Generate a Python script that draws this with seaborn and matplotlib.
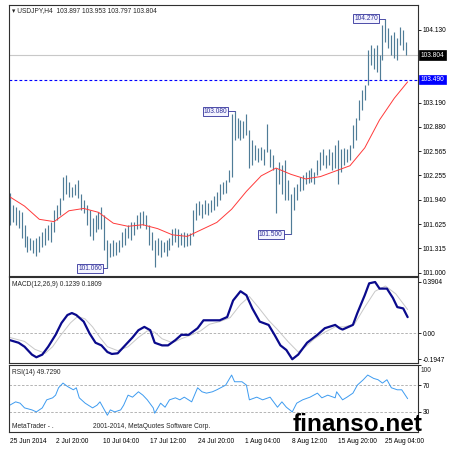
import matplotlib
matplotlib.use('Agg')
import matplotlib.pyplot as plt
import numpy as np
import seaborn as sns

sns.set_style('white')
plt.rcParams['font.family'] = ['Liberation Sans', 'DejaVu Sans']

# ---- price bars (H8-style sampling of the H4 chart) ----
bar_high = [
    102.03, 101.88, 101.85, 101.81, 101.79, 101.62, 101.47, 101.45, 101.43, 101.45,
    101.48, 101.53, 101.58, 101.62, 101.66, 101.81, 101.88, 101.97, 102.23, 102.26,
    102.17, 102.11, 102.15, 102.20, 102.01, 101.94, 101.88, 101.81, 101.71, 101.75,
    101.79, 101.85, 101.75, 101.43, 101.39, 101.43, 101.40, 101.43, 101.53, 101.58,
    101.62, 101.65, 101.66, 101.75, 101.79, 101.80, 101.75, 101.62, 101.53, 101.43,
    101.45, 101.43, 101.40, 101.43, 101.45, 101.56, 101.58, 101.56, 101.52, 101.53,
    101.51, 101.52, 101.81, 101.90, 101.93, 101.89, 101.94, 101.90, 101.94, 101.99,
    102.04, 102.14, 102.17, 102.20, 102.33, 103.04, 103.08, 103.00, 102.97, 102.95,
    103.04, 102.84, 102.71, 102.65, 102.61, 102.62, 102.59, 102.92, 102.59, 102.52,
    102.35, 102.43, 102.39, 102.46, 102.20, 102.01, 102.10, 102.14, 102.23, 102.26,
    102.30, 102.33, 102.35, 102.30, 102.46, 102.56, 102.59, 102.52, 102.59, 102.56,
    102.65, 102.71, 102.59, 102.61, 102.59, 102.65, 102.91, 103.00, 103.23, 103.36,
    103.42, 103.87, 103.94, 103.90, 103.94, 103.81, 104.19, 104.27, 104.16, 104.07,
    104.10, 104.03, 104.17, 104.13, 103.97]
bar_low = [
    101.62, 101.66, 101.62, 101.58, 101.45, 101.33, 101.27, 101.30, 101.25, 101.22,
    101.27, 101.33, 101.36, 101.43, 101.40, 101.53, 101.68, 101.75, 101.94, 102.01,
    101.98, 101.98, 102.00, 101.97, 101.81, 101.77, 101.62, 101.47, 101.43, 101.53,
    101.56, 101.56, 101.30, 101.06, 101.21, 101.22, 101.23, 101.27, 101.33, 101.36,
    101.45, 101.43, 101.49, 101.56, 101.58, 101.62, 101.56, 101.36, 101.30, 101.08,
    101.23, 101.20, 101.27, 101.22, 101.30, 101.36, 101.40, 101.33, 101.36, 101.33,
    101.35, 101.36, 101.48, 101.68, 101.75, 101.71, 101.76, 101.74, 101.79, 101.81,
    101.86, 101.94, 102.01, 102.03, 102.17, 102.23, 102.71, 102.74, 102.71, 102.74,
    102.78, 102.35, 102.39, 102.46, 102.43, 102.46, 102.39, 102.56, 102.37, 102.33,
    101.77, 102.14, 102.01, 101.94, 101.94, 101.50, 101.81, 101.94, 102.05, 102.07,
    102.14, 102.16, 102.17, 102.14, 102.26, 102.33, 102.39, 102.35, 102.39, 102.33,
    102.35, 102.14, 102.30, 102.39, 102.43, 102.46, 102.61, 102.71, 102.97, 103.10,
    103.23, 103.42, 103.68, 103.62, 103.59, 103.49, 103.74, 103.97, 103.90, 103.81,
    103.77, 103.74, 103.94, 103.87, 103.80]

# moving average (red)
ma_idx = list(range(0, 261, 10)) + [269]
ma_val = [101.98, 101.86, 101.69, 101.66, 101.80, 101.83, 101.78, 101.64, 101.60, 101.62,
          101.57, 101.49, 101.47, 101.56, 101.65, 101.82, 102.05, 102.25, 102.35, 102.27,
          102.21, 102.24, 102.31, 102.38, 102.61, 102.97, 103.25, 103.46]

# MACD(12,26,9)
macd_idx = [0, 6, 10, 15, 18, 22, 26, 31, 35, 39, 42, 45, 50, 54, 58, 62, 66, 69, 73, 78,
            83, 87, 91, 95, 98, 103, 107, 112, 116, 121, 127, 131, 135, 142, 147, 151, 156, 160, 164, 169,
            175, 179, 183, 187, 191, 195, 201, 208, 213, 220, 223, 225, 232, 235, 240, 243, 247, 250, 255, 259,
            262, 266, 269]
macd_val = [-0.05, -0.07, -0.10, -0.16, -0.18, -0.16, -0.10, -0.01, 0.08, 0.14,
            0.155, 0.14, 0.09, 0.00, -0.07, -0.09, -0.14, -0.155, -0.15, -0.09,
            -0.03, 0.025, 0.05, 0.025, -0.07, -0.09, -0.09, -0.05, -0.01, -0.01,
            0.04, 0.10, 0.10, 0.10, 0.125, 0.25, 0.32, 0.29, 0.19, 0.09,
            0.065, -0.01, -0.09, -0.125, -0.195, -0.16, -0.07, -0.01, 0.04, 0.065,
            0.04, 0.03, 0.065, 0.155, 0.29, 0.38, 0.39, 0.34, 0.34, 0.27,
            0.20, 0.19, 0.124]
signal_idx = [0, 10, 17, 24, 29, 34, 41, 46, 51, 56, 61, 66, 73, 80, 87, 93, 98, 103, 110, 116,
              123, 129, 135, 142, 149, 156, 162, 168, 175, 181, 188, 195, 200, 206, 213, 220, 226, 233, 240, 247,
              254, 261, 269]
signal_val = [-0.03, -0.06, -0.12, -0.15, -0.10, -0.02, 0.08, 0.13, 0.11, 0.05,
              -0.03, -0.10, -0.13, -0.10, -0.03, 0.02, 0.01, -0.04, -0.07, -0.04,
              -0.01, 0.02, 0.07, 0.09, 0.12, 0.22, 0.28, 0.20, 0.10, 0.03,
              -0.06, -0.14, -0.10, -0.04, 0.01, 0.05, 0.05, 0.07, 0.20, 0.32,
              0.36, 0.30, 0.181]

# RSI(14)
rsi_idx = [0, 4, 7, 10, 15, 18, 22, 25, 29, 31, 33, 36, 39, 43, 45, 47, 51, 56, 59, 61,
           63, 66, 68, 71, 75, 77, 80, 83, 87, 90, 93, 97, 98, 102, 105, 108, 112, 115, 118, 123,
           127, 130, 133, 137, 140, 146, 150, 152, 157, 160, 162, 167, 171, 176, 181, 184, 187, 191, 194, 198,
           203, 208, 211, 215, 220, 221, 225, 228, 232, 235, 239, 242, 246, 249, 252, 255, 258, 262, 265, 269]
rsi_val = [40, 45, 43, 36, 33, 30, 36, 48, 51, 55, 66, 73, 68, 63, 66, 51, 43, 36, 40, 45,
           37, 25, 33, 30, 33, 40, 55, 52, 60, 55, 48, 36, 28, 43, 37, 48, 51, 48, 52, 45,
           66, 60, 58, 60, 63, 70, 85, 75, 75, 70, 48, 52, 48, 52, 37, 45, 37, 30, 43, 48,
           52, 58, 51, 55, 51, 60, 48, 52, 58, 70, 78, 85, 80, 78, 73, 78, 66, 63, 63, 49.73]

price_ticks = [104.130, 103.190, 102.880, 102.565, 102.255, 101.940, 101.625, 101.315, 101.000]
date_pos = [0, 31, 63, 95, 127, 159, 191, 222, 254]
date_labels = ['25 Jun 2014', '2 Jul 20:00', '10 Jul 04:00', '17 Jul 12:00', '24 Jul 20:00',
               '1 Aug 04:00', '8 Aug 12:00', '15 Aug 20:00', '25 Aug 04:00']

W = H = 450
FS = 4.8
fig = plt.figure(figsize=(4.5, 4.5), dpi=100)


def box(top, bottom, left=9, right=418):
    return [left / W, 1 - bottom / H, (right - left) / W, (bottom - top) / H]


def px(x, y):
    return x / W, 1 - y / H


ax = fig.add_axes(box(5, 276))
ax_macd = fig.add_axes(box(277, 363))
ax_rsi = fig.add_axes(box(365, 432))

for a in (ax, ax_macd, ax_rsi):
    a.set_xlim(-0.5, 276)
    for s in a.spines.values():
        s.set_color('#303030')
        s.set_linewidth(0.8)
    a.yaxis.tick_right()
    a.tick_params(axis='y', direction='out', length=2.2, width=0.6, pad=1,
                  labelsize=FS, colors='black')
    a.tick_params(axis='x', length=0)
    a.set_xticks([])

# main panel
bar_x = np.arange(len(bar_high)) * 2
ax.vlines(bar_x, bar_low, bar_high, color='#4f7c97', lw=0.85)
sns.lineplot(x=ma_idx, y=ma_val, ax=ax, color='#ff3a3a', lw=0.7)
ax.axhline(103.804, color='#c8c8c8', lw=0.8, zorder=0)
ax.axhline(103.49, color='#0000ff', lw=0.8, ls=(0, (2.5, 2)))
ax.set_ylim(100.96, 104.45)
ax.set_yticks(price_ticks)
ax.set_yticklabels(['%.3f' % v for v in price_ticks])
tr = ax.get_yaxis_transform()
ax.text(1.006, 103.804, '103.804', transform=tr, fontsize=FS, color='white', va='center',
        bbox=dict(boxstyle='square,pad=0.2', fc='black', ec='black', lw=0.5))
ax.text(1.006, 103.49, '103.490', transform=tr, fontsize=FS, color='white', va='center',
        bbox=dict(boxstyle='square,pad=0.2', fc='#0000ff', ec='#0000ff', lw=0.5))

# extreme labels
for xr, xb, v in [(249, 254, 104.27), (147, 152, 103.08), (62.5, 66, 101.06), (184.5, 190, 101.50)]:
    ax.text(xr, v, '%.3f' % v, fontsize=FS, color='#30309a', ha='right', va='center',
            bbox=dict(boxstyle='square,pad=0.15', fc='#f4f4ff', ec='#30309a', lw=0.6))
    ax.plot([xr + 0.8, xb], [v, v], color='#30309a', lw=0.6)

# MACD panel
ax_macd.axhline(0, color='#a8a8a8', lw=0.6, ls=(0, (3, 2)))
sns.lineplot(x=signal_idx, y=signal_val, ax=ax_macd, color='#c8c8c8', lw=0.7)
sns.lineplot(x=macd_idx, y=macd_val, ax=ax_macd, color='#0a0a8c', lw=1.6)
ax_macd.set_ylim(-0.2235, 0.428)
ax_macd.set_yticks([0.3904, 0.0, -0.1947])
ax_macd.set_yticklabels(['0.3904', '0.00', '-0.1947'])

# RSI panel
for lvl in (70, 30):
    ax_rsi.axhline(lvl, color='#a8a8a8', lw=0.6, ls=(0, (3, 2)))
sns.lineplot(x=rsi_idx, y=rsi_val, ax=ax_rsi, color='#3d9bf0', lw=0.7)
ax_rsi.set_ylim(0, 100)
ax_rsi.set_yticks([100, 70, 30])
ax_rsi.set_yticklabels(['', '70', '30'])
ax_rsi.set_xticks(date_pos)
ax_rsi.set_xticklabels(date_labels, ha='left')
ax_rsi.tick_params(axis='x', direction='out', length=3, width=0.6, pad=1,
                   labelsize=FS, colors='black')

for a in (ax, ax_macd, ax_rsi):
    a.set_xlabel('')
    a.set_ylabel('')

# texts
fig.text(*px(12, 11), '\u25be USDJPY,H4  103.897 103.953 103.797 103.804', fontsize=FS, va='center')
fig.text(*px(12, 284), 'MACD(12,26,9) 0.1239 0.1809', fontsize=FS, va='center')
fig.text(*px(12, 372), 'RSI(14) 49.7290', fontsize=FS, va='center')
fig.text(*px(421, 370), '100', fontsize=FS, va='center')
fig.text(*px(12, 427), 'MetaTrader - .', fontsize=FS, va='center')
fig.text(*px(93, 427), '2001-2014, MetaQuotes Software Corp.', fontsize=FS, va='center')
fig.text(*px(293, 424.5), 'finanso.net', fontsize=17.5, fontweight='bold', va='center', color='black')

fig.savefig('out.png', dpi=100, facecolor='white')
